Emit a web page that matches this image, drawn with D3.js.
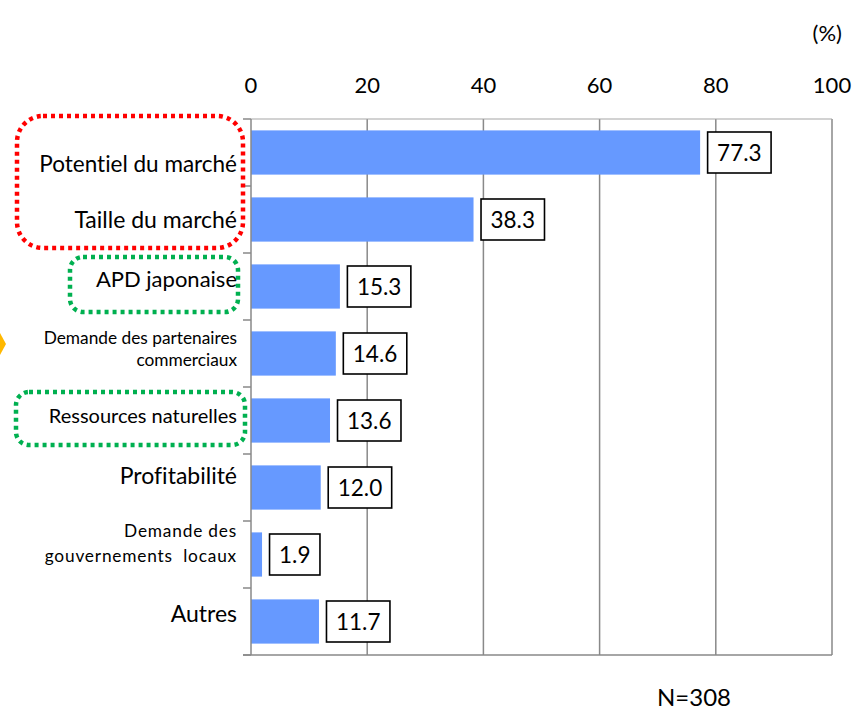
<!DOCTYPE html>
<html>
<head>
<meta charset="utf-8">
<script src="https://cdn.jsdelivr.net/npm/d3@7"></script>
<style>
  html, body { margin: 0; padding: 0; background: #ffffff; }
  svg { display: block; }
  text { font-family: Lato, "Liberation Sans", sans-serif; fill: #000; font-variant-ligatures: none; }
</style>
</head>
<body>
<svg id="chart" width="854" height="712"></svg>
<script>
// ---- data ----
const categories = [
  ["Potentiel du marché"],
  ["Taille du marché"],
  ["APD japonaise"],
  ["Demande des partenaires", "commerciaux"],
  ["Ressources naturelles"],
  ["Profitabilité"],
  ["Demande des", "gouvernements  locaux"],
  ["Autres"]
];
const values = [77.3, 38.3, 15.3, 14.6, 13.6, 12.0, 1.9, 11.7];
const tickValues = [0, 20, 40, 60, 80, 100];
const unitLabel = "(%)";
const noteLabel = "N=308";

// ---- layout / style (not data) ----
const plot = { left: 251, right: 832, top: 119, bottom: 655 };
const barColor = "#6699FF";
const gridColor = "#898989";
const labelStyle = [
  { size: 22.5, dy: [19.5], ls: 0 },
  { size: 23, dy: [8.5], ls: 0 },
  { size: 22, dy: [0.5], ls: 0 },
  { size: 17.3, dy: [-10, 12], ls: 0 },
  { size: 20, dy: [2.5], ls: 0 },
  { size: 23, dy: [-3.5], ls: 0 },
  { size: 17.3, dy: [-18, 7], ls: 0.8 },
  { size: 23, dy: [0.5], ls: 0 }
];

const svg = d3.select("#chart");

const x = d3.scaleLinear().domain([0, 100]).range([plot.left, plot.right]);
const y = d3.scaleBand()
  .domain(d3.range(categories.length))
  .range([plot.top, plot.bottom])
  .paddingInner(0.34)
  .paddingOuter(0.17);
const yEdge = d3.scaleLinear().domain([0, categories.length]).range([plot.top, plot.bottom]);

// gridlines
svg.append("g")
  .selectAll("line")
  .data(tickValues.filter(d => d > 0))
  .join("line")
  .attr("x1", d => x(d)).attr("x2", d => x(d))
  .attr("y1", plot.top).attr("y2", plot.bottom)
  .attr("stroke", gridColor).attr("stroke-width", 1.5);

// top border
svg.append("line")
  .attr("x1", plot.left).attr("x2", plot.right)
  .attr("y1", plot.top).attr("y2", plot.top)
  .attr("stroke", "#a6a6a6").attr("stroke-width", 1.2);

// top axis labels
svg.append("g")
  .selectAll("text")
  .data(tickValues)
  .join("text")
  .attr("x", d => x(d))
  .attr("y", 93)
  .attr("text-anchor", "middle")
  .style("font-size", "22px")
  .text(d => d);

// bars
svg.append("g")
  .selectAll("rect")
  .data(values)
  .join("rect")
  .attr("x", x(0))
  .attr("y", (d, i) => y(i))
  .attr("width", d => x(d) - x(0))
  .attr("height", y.bandwidth())
  .attr("fill", barColor);

// left axis with category boundary ticks
svg.append("line")
  .attr("x1", plot.left).attr("x2", plot.left)
  .attr("y1", plot.top).attr("y2", plot.bottom)
  .attr("stroke", gridColor).attr("stroke-width", 1.5);
svg.append("g")
  .selectAll("line")
  .data(d3.range(categories.length + 1))
  .join("line")
  .attr("x1", plot.left - 8).attr("x2", plot.left)
  .attr("y1", d => yEdge(d)).attr("y2", d => yEdge(d))
  .attr("stroke", gridColor).attr("stroke-width", 1.5);
// bottom axis line
svg.append("line")
  .attr("x1", plot.left - 8).attr("x2", plot.right)
  .attr("y1", plot.bottom).attr("y2", plot.bottom)
  .attr("stroke", gridColor).attr("stroke-width", 1.5);

// value labels in boxes
const vg = svg.append("g");
values.forEach((v, i) => {
  const cy = y(i) + y.bandwidth() / 2;
  const g = vg.append("g");
  const t = g.append("text")
    .attr("x", 0).attr("y", cy + 8)
    .style("font-size", "22.5px")
    .text(v.toFixed(1));
  const tw = t.node().getComputedTextLength();
  const padX = 9.5, bh = 41;
  const bx = x(v) + 7.5;
  g.insert("rect", "text")
    .attr("x", bx).attr("y", cy - bh / 2)
    .attr("width", tw + padX * 2).attr("height", bh)
    .attr("fill", "#fff").attr("stroke", "#000").attr("stroke-width", 1.6);
  t.attr("x", bx + padX);
});

// category labels
const lg = svg.append("g");
categories.forEach((lines, i) => {
  const cy = y(i) + y.bandwidth() / 2;
  const st = labelStyle[i];
  lines.forEach((ln, j) => {
    lg.append("text")
      .attr("x", 237)
      .attr("y", cy + st.dy[j])
      .attr("text-anchor", "end")
      .style("font-size", st.size + "px")
      .style("letter-spacing", st.ls + "px")
      .style("white-space", "pre")
      .text(ln);
  });
});

// callout dotted boxes
const callouts = [
  { from: 0, to: 1, x0: 17, x1: 243, t: -3, b: -5, r: 26, color: "#FF0000" },
  { from: 2, to: 2, x0: 70, x1: 238, t: 4, b: -8, r: 13, color: "#00B050" },
  { from: 4, to: 4, x0: 16, x1: 245, t: 5, b: -9, r: 13, color: "#00B050" }
];
svg.append("g")
  .selectAll("rect")
  .data(callouts)
  .join("rect")
  .attr("x", d => d.x0)
  .attr("y", d => yEdge(d.from) + d.t)
  .attr("width", d => d.x1 - d.x0)
  .attr("height", d => yEdge(d.to + 1) + d.b - (yEdge(d.from) + d.t))
  .attr("rx", d => d.r).attr("ry", d => d.r)
  .attr("fill", "none")
  .attr("stroke", d => d.color)
  .attr("stroke-width", 4.5)
  .attr("stroke-dasharray", "4 4");

// orange arrow tip on the left edge
svg.append("path")
  .attr("d", "M0,333 L6,344 L0,355 Z")
  .attr("fill", "#FFB800");

// unit and note
svg.append("text")
  .attr("x", 842).attr("y", 41)
  .attr("text-anchor", "end")
  .style("font-size", "22px")
  .text(unitLabel);
svg.append("text")
  .attr("x", 657).attr("y", 706)
  .style("font-size", "24px")
  .text(noteLabel);
</script>
</body>
</html>
